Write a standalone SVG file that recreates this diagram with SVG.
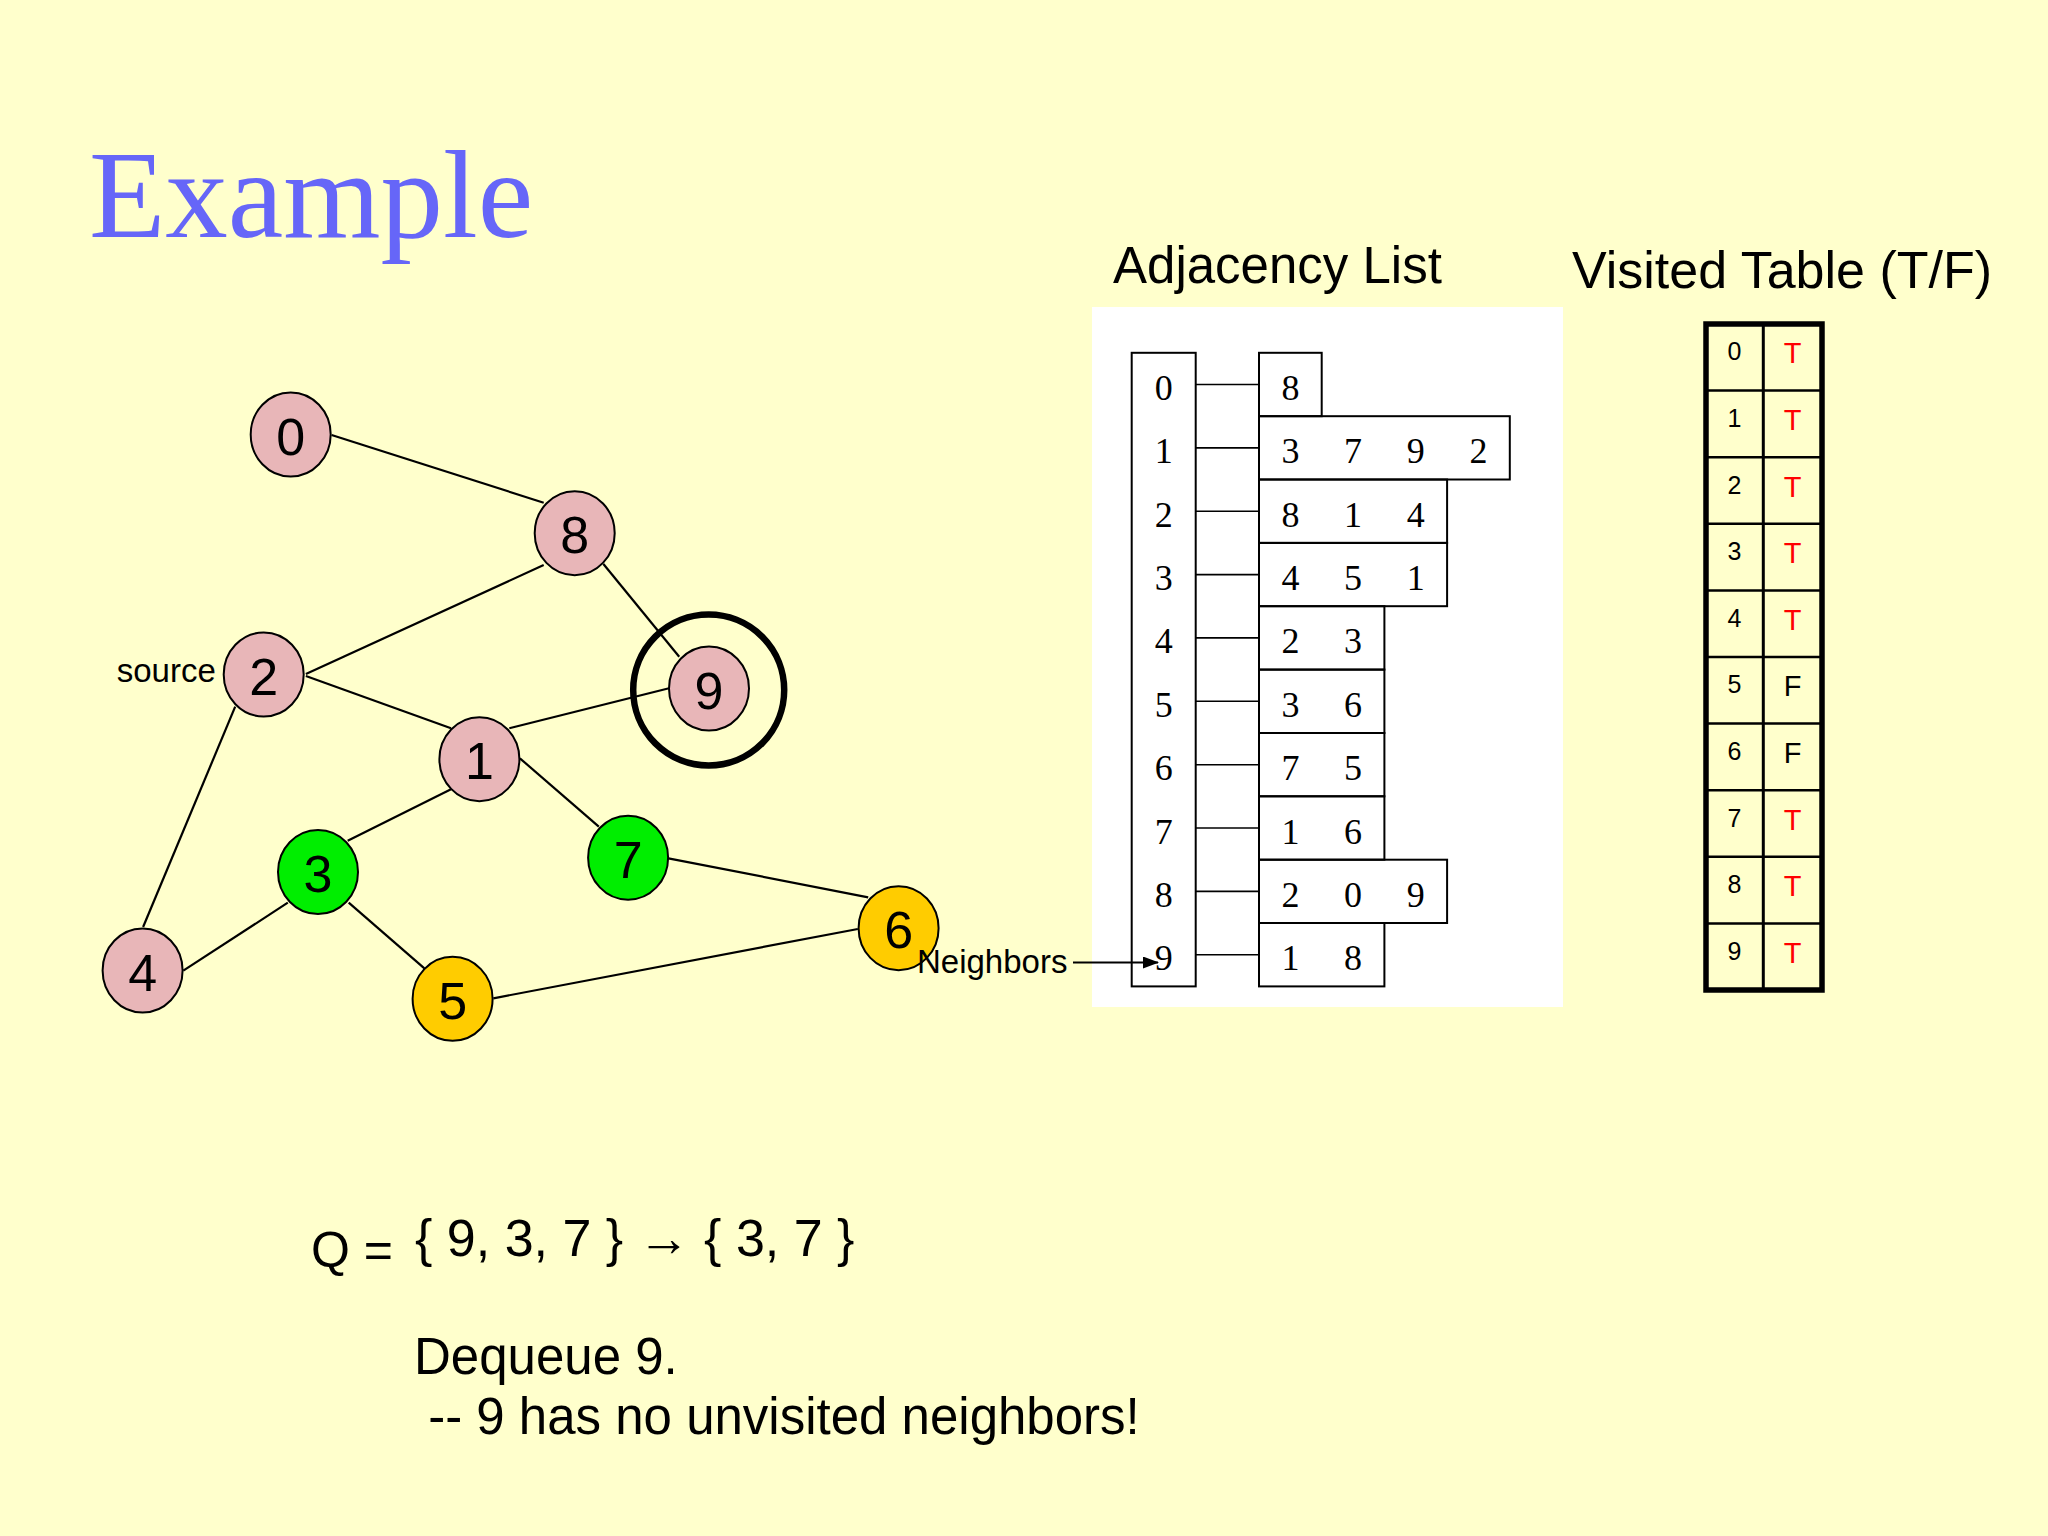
<svg xmlns="http://www.w3.org/2000/svg" width="2048" height="1536" viewBox="0 0 2048 1536">
<defs>
<style>
.node{stroke:#000;stroke-width:2}
.pink{fill:#E8B6B8}
.green{fill:#00EE00}
.gold{fill:#FFCC00}
.nl{font-family:"Liberation Sans",Arial,sans-serif;font-size:52px;text-anchor:middle;fill:#000}
.edge{stroke:#000;stroke-width:2.2;fill:none}
.sans{font-family:"Liberation Sans",Arial,sans-serif;fill:#000}
.serifd{font-family:"Liberation Serif","Times New Roman",serif;font-size:36px;text-anchor:middle;fill:#000}
.box{fill:none;stroke:#000;stroke-width:2}
.link{stroke:#000;stroke-width:1.6}
.vt{fill:none;stroke:#000;stroke-width:2.5}
.vd{font-family:"Liberation Sans",Arial,sans-serif;font-size:25px;text-anchor:middle;fill:#000}
.vf{font-family:"Liberation Sans",Arial,sans-serif;font-size:29px;text-anchor:middle}
</style>
<marker id="ah" markerWidth="16" markerHeight="12" refX="15" refY="6" orient="auto" markerUnits="userSpaceOnUse">
<path d="M0,0 L16,6 L0,12 Z" fill="#000"/>
</marker>
</defs>
<rect width="2048" height="1536" fill="#FFFFCC"/>
<text x="89" y="237" font-family="'Liberation Serif','Times New Roman',serif" font-size="125" fill="#6666F8">Example</text>
<text class="sans" x="1113" y="283" font-size="51">Adjacency List</text>
<text class="sans" x="1572" y="288" font-size="52">Visited Table (T/F)</text>

<g id="edges">
<line class="edge" x1="331.6" y1="435" x2="543.7" y2="502.7"/>
<line class="edge" x1="543.7" y1="565" x2="305.9" y2="674"/>
<line class="edge" x1="603.4" y1="564" x2="679.2" y2="656.7"/>
<line class="edge" x1="305.9" y1="676" x2="451" y2="728.3"/>
<line class="edge" x1="509.3" y1="728.3" x2="669" y2="688.3"/>
<line class="edge" x1="235.2" y1="706.7" x2="143.1" y2="927"/>
<line class="edge" x1="451" y1="789.3" x2="347.7" y2="840.7"/>
<line class="edge" x1="519.9" y1="758.3" x2="598.8" y2="826.7"/>
<line class="edge" x1="668.4" y1="858.3" x2="868.2" y2="897.3"/>
<line class="edge" x1="287.8" y1="902.7" x2="183.3" y2="970.7"/>
<line class="edge" x1="348.7" y1="902.7" x2="424.4" y2="968.3"/>
<line class="edge" x1="493.3" y1="998.3" x2="857.8" y2="929"/>
</g>

<g id="node0"><ellipse class="node pink" cx="290.7" cy="434.5" rx="40" ry="42"/><text class="nl" x="290.7" y="454.5">0</text></g>
<g id="node8"><ellipse class="node pink" cx="574.7" cy="533.2" rx="40" ry="42"/><text class="nl" x="574.7" y="553.2">8</text></g>
<g id="node2"><ellipse class="node pink" cx="263.7" cy="674.5" rx="40" ry="42"/><text class="nl" x="263.7" y="694.5">2</text></g>
<g id="node9"><ellipse class="node pink" cx="709" cy="688.5" rx="40" ry="42"/><text class="nl" x="709" y="708.5">9</text></g>
<g id="ring9"><circle cx="708.7" cy="690" r="75.5" fill="none" stroke="#000" stroke-width="6.5"/></g>
<g id="node1"><ellipse class="node pink" cx="479.4" cy="759.2" rx="40" ry="42"/><text class="nl" x="479.4" y="779.2">1</text></g>
<g id="node3"><ellipse class="node green" cx="318" cy="872" rx="40" ry="42"/><text class="nl" x="318" y="892">3</text></g>
<g id="node7"><ellipse class="node green" cx="628.1" cy="857.7" rx="40" ry="42"/><text class="nl" x="628.1" y="877.7">7</text></g>
<g id="node4"><ellipse class="node pink" cx="142.6" cy="970.5" rx="40" ry="42"/><text class="nl" x="142.6" y="990.5">4</text></g>
<g id="node5"><ellipse class="node gold" cx="452.6" cy="998.8" rx="40" ry="42"/><text class="nl" x="452.6" y="1018.8">5</text></g>
<g id="node6"><ellipse class="node gold" cx="898.6" cy="928.2" rx="40" ry="42"/><text class="nl" x="898.6" y="948.2">6</text></g>
<text class="sans" x="116.7" y="681.7" font-size="33">source</text>

<g id="adjacency">
<rect x="1092" y="307" width="471" height="700" fill="#FFFFFF"/>
<rect class="box" x="1131.7" y="352.8" width="64" height="633.6"/>
<g id="links">
<line class="link" x1="1195.7" y1="384.5" x2="1259" y2="384.5"/>
<line class="link" x1="1195.7" y1="447.9" x2="1259" y2="447.9"/>
<line class="link" x1="1195.7" y1="511.2" x2="1259" y2="511.2"/>
<line class="link" x1="1195.7" y1="574.6" x2="1259" y2="574.6"/>
<line class="link" x1="1195.7" y1="637.9" x2="1259" y2="637.9"/>
<line class="link" x1="1195.7" y1="701.3" x2="1259" y2="701.3"/>
<line class="link" x1="1195.7" y1="764.7" x2="1259" y2="764.7"/>
<line class="link" x1="1195.7" y1="828" x2="1259" y2="828"/>
<line class="link" x1="1195.7" y1="891.4" x2="1259" y2="891.4"/>
<line class="link" x1="1195.7" y1="954.7" x2="1259" y2="954.7"/>
</g>
<rect class="box" x="1259" y="352.8" width="62.7" height="63.4"/>
<rect class="box" x="1259" y="416.2" width="250.8" height="63.3"/>
<rect class="box" x="1259" y="479.5" width="188.1" height="63.4"/>
<rect class="box" x="1259" y="542.9" width="188.1" height="63.3"/>
<rect class="box" x="1259" y="606.2" width="125.4" height="63.4"/>
<rect class="box" x="1259" y="669.6" width="125.4" height="63.4"/>
<rect class="box" x="1259" y="733" width="125.4" height="63.3"/>
<rect class="box" x="1259" y="796.3" width="125.4" height="63.4"/>
<rect class="box" x="1259" y="859.7" width="188.1" height="63.3"/>
<rect class="box" x="1259" y="923" width="125.4" height="63.4"/>
<g id="index-digits">
<text class="serifd" x="1163.7" y="400">0</text>
<text class="serifd" x="1163.7" y="463.4">1</text>
<text class="serifd" x="1163.7" y="526.7">2</text>
<text class="serifd" x="1163.7" y="590.1">3</text>
<text class="serifd" x="1163.7" y="653.4">4</text>
<text class="serifd" x="1163.7" y="716.8">5</text>
<text class="serifd" x="1163.7" y="780.2">6</text>
<text class="serifd" x="1163.7" y="843.5">7</text>
<text class="serifd" x="1163.7" y="906.9">8</text>
<text class="serifd" x="1163.7" y="970.2">9</text>
</g>
<g id="list-digits">
<text class="serifd" x="1290.4" y="400">8</text>
<text class="serifd" x="1290.4" y="463.4">3</text><text class="serifd" x="1353.1" y="463.4">7</text><text class="serifd" x="1415.8" y="463.4">9</text><text class="serifd" x="1478.5" y="463.4">2</text>
<text class="serifd" x="1290.4" y="526.7">8</text><text class="serifd" x="1353.1" y="526.7">1</text><text class="serifd" x="1415.8" y="526.7">4</text>
<text class="serifd" x="1290.4" y="590.1">4</text><text class="serifd" x="1353.1" y="590.1">5</text><text class="serifd" x="1415.8" y="590.1">1</text>
<text class="serifd" x="1290.4" y="653.4">2</text><text class="serifd" x="1353.1" y="653.4">3</text>
<text class="serifd" x="1290.4" y="716.8">3</text><text class="serifd" x="1353.1" y="716.8">6</text>
<text class="serifd" x="1290.4" y="780.2">7</text><text class="serifd" x="1353.1" y="780.2">5</text>
<text class="serifd" x="1290.4" y="843.5">1</text><text class="serifd" x="1353.1" y="843.5">6</text>
<text class="serifd" x="1290.4" y="906.9">2</text><text class="serifd" x="1353.1" y="906.9">0</text><text class="serifd" x="1415.8" y="906.9">9</text>
<text class="serifd" x="1290.4" y="970.2">1</text><text class="serifd" x="1353.1" y="970.2">8</text>
</g>
</g>

<g id="neighbors">
<text class="sans" x="917" y="973" font-size="33">Neighbors</text>
<line x1="1073" y1="962.5" x2="1158" y2="962.5" stroke="#000" stroke-width="1.8" marker-end="url(#ah)"/>
</g>

<g id="visited">
<line class="vt" x1="1706" y1="390.6" x2="1822" y2="390.6"/>
<line class="vt" x1="1706" y1="457.2" x2="1822" y2="457.2"/>
<line class="vt" x1="1706" y1="523.8" x2="1822" y2="523.8"/>
<line class="vt" x1="1706" y1="590.4" x2="1822" y2="590.4"/>
<line class="vt" x1="1706" y1="657" x2="1822" y2="657"/>
<line class="vt" x1="1706" y1="723.6" x2="1822" y2="723.6"/>
<line class="vt" x1="1706" y1="790.2" x2="1822" y2="790.2"/>
<line class="vt" x1="1706" y1="856.8" x2="1822" y2="856.8"/>
<line class="vt" x1="1706" y1="923.4" x2="1822" y2="923.4"/>
<line x1="1763.3" y1="324" x2="1763.3" y2="990" stroke="#000" stroke-width="3"/>
<rect x="1706" y="324" width="116" height="666" fill="none" stroke="#000" stroke-width="5.5"/>
<text class="vd" x="1734.5" y="360.3">0</text><text class="vf" x="1792.5" y="363.4" fill="#FF0000">T</text>
<text class="vd" x="1734.5" y="426.9">1</text><text class="vf" x="1792.5" y="430" fill="#FF0000">T</text>
<text class="vd" x="1734.5" y="493.5">2</text><text class="vf" x="1792.5" y="496.6" fill="#FF0000">T</text>
<text class="vd" x="1734.5" y="560.1">3</text><text class="vf" x="1792.5" y="563.2" fill="#FF0000">T</text>
<text class="vd" x="1734.5" y="626.7">4</text><text class="vf" x="1792.5" y="629.8" fill="#FF0000">T</text>
<text class="vd" x="1734.5" y="693.3">5</text><text class="vf" x="1792.5" y="696.4" fill="#000000">F</text>
<text class="vd" x="1734.5" y="759.9">6</text><text class="vf" x="1792.5" y="763" fill="#000000">F</text>
<text class="vd" x="1734.5" y="826.5">7</text><text class="vf" x="1792.5" y="829.6" fill="#FF0000">T</text>
<text class="vd" x="1734.5" y="893.1">8</text><text class="vf" x="1792.5" y="896.2" fill="#FF0000">T</text>
<text class="vd" x="1734.5" y="959.7">9</text><text class="vf" x="1792.5" y="962.8" fill="#FF0000">T</text>
</g>

<g id="queue">
<text class="sans" x="311" y="1267" font-size="50">Q =</text>
<text class="sans" x="415" y="1256" font-size="52">{ 9, 3, 7 } → { 3, 7 }</text>
<text class="sans" x="414" y="1374" font-size="51">Dequeue 9.</text>
<text class="sans" x="414" y="1434" font-size="51" xml:space="preserve"> -- 9 has no unvisited neighbors!</text>
</g>
</svg>
